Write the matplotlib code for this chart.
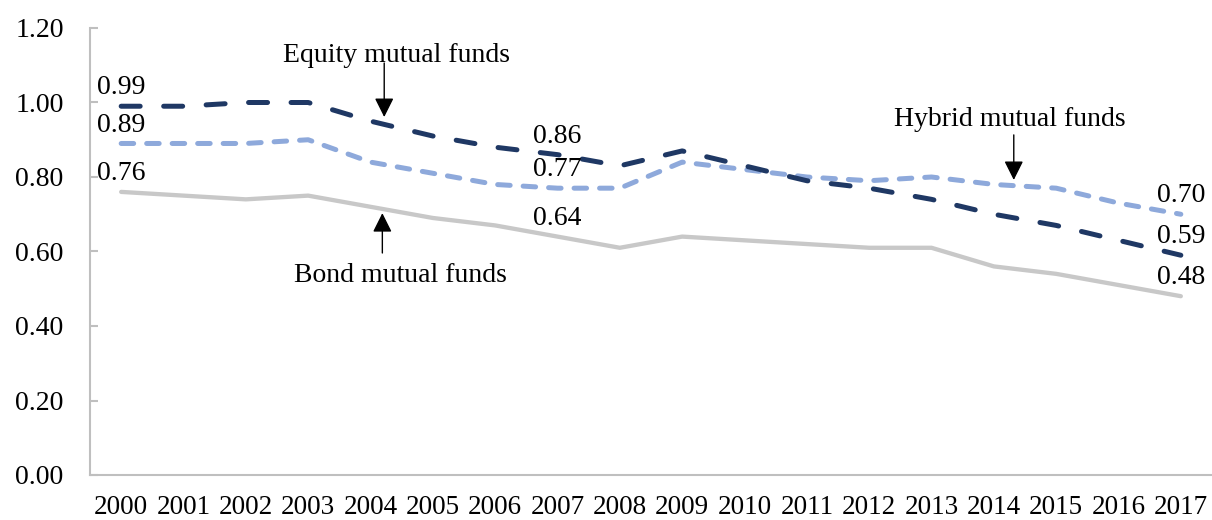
import matplotlib
matplotlib.use("Agg")
import matplotlib.pyplot as plt

years = [str(y) for y in range(2000, 2018)]
equity = [0.99, 0.99, 1.00, 1.00, 0.95, 0.91, 0.88, 0.86, 0.83, 0.87, 0.83, 0.79, 0.77, 0.74, 0.70, 0.67, 0.63, 0.59]
hybrid = [0.89, 0.89, 0.89, 0.90, 0.84, 0.81, 0.78, 0.77, 0.77, 0.84, 0.82, 0.80, 0.79, 0.80, 0.78, 0.77, 0.73, 0.70]
bond = [0.76, 0.75, 0.74, 0.75, 0.72, 0.69, 0.67, 0.64, 0.61, 0.64, 0.63, 0.62, 0.61, 0.61, 0.56, 0.54, 0.51, 0.48]
yticks = [0.0, 0.2, 0.4, 0.6, 0.8, 1.0, 1.2]
label_idx = [0, 7, 17]

plt.rcParams['font.family'] = ['Liberation Serif', 'DejaVu Serif']

fig = plt.figure(figsize=(12.12, 5.2), dpi=100)
ax = fig.add_axes([90/1212, 1 - 475/520, 1 - 90/1212, (475 - 28)/520])

x = list(range(len(years)))
ax.plot(x, bond, color='#C8C8C8', lw=3.1, solid_capstyle='round', solid_joinstyle='round', zorder=2)
ax.plot(x, hybrid, color='#8EA9DB', lw=3.6, dashes=(2.5, 2.6), dash_capstyle='round', zorder=3)
ax.plot(x, equity, color='#1F3864', lw=3.6, dashes=(3.8, 4.7), dash_capstyle='round', zorder=4)

ax.set_xlim(-0.5, len(years) - 0.5)
ax.set_ylim(0, 1.2)
ax.set_xticks(x)
ax.set_xticklabels(years)
ax.set_yticks(yticks)
ax.set_yticklabels([f"{v:.2f}" for v in yticks])
ax.tick_params(axis='x', length=0, pad=14.5, labelsize=19.5)
ax.tick_params(axis='y', length=5.8, width=1.5, color='#BFBFBF', pad=19, labelsize=20, direction='in')
for s in ['top', 'right']:
    ax.spines[s].set_visible(False)
for s in ['left', 'bottom']:
    ax.spines[s].set_color('#BFBFBF')
    ax.spines[s].set_linewidth(1.5)

# value labels
for i in label_idx:
    for series in (equity, hybrid, bond):
        ax.text(x[i], series[i] + 0.016, f"{series[i]:.2f}", ha='center', va='bottom',
                fontsize=20, zorder=5)

arrowprops = dict(arrowstyle='-|>,head_length=0.9,head_width=0.45', color='black', lw=1.0,
                  mutation_scale=13, shrinkA=0, shrinkB=0)
ax.annotate('', xy=(4.22, 0.961), xytext=(4.22, 1.106), arrowprops=arrowprops)
ax.text(4.41, 1.127, 'Equity mutual funds', ha='center', va='center', fontsize=20)
ax.annotate('', xy=(4.19, 0.703), xytext=(4.19, 0.596), arrowprops=arrowprops)
ax.text(4.48, 0.536, 'Bond mutual funds', ha='center', va='center', fontsize=20)
ax.annotate('', xy=(14.32, 0.792), xytext=(14.32, 0.913), arrowprops=arrowprops)
ax.text(14.26, 0.955, 'Hybrid mutual funds', ha='center', va='center', fontsize=20)

fig.savefig('out.png', dpi=100)
